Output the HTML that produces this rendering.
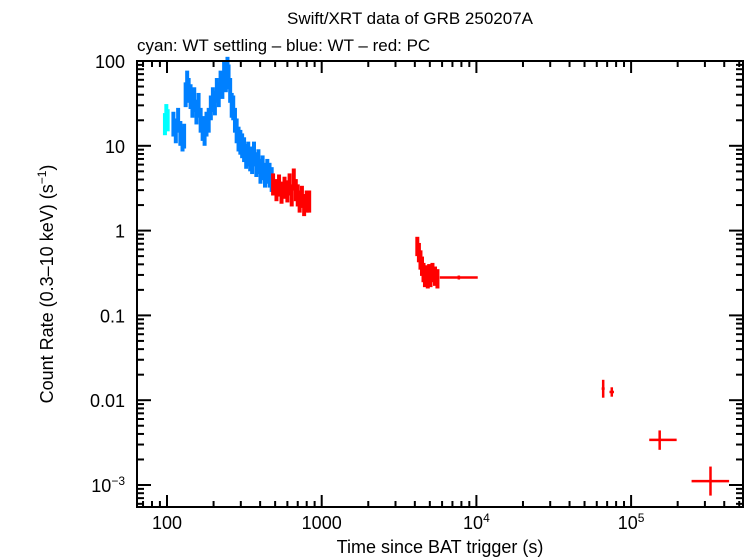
<!DOCTYPE html>
<html><head><meta charset="utf-8"><style>
html,body{margin:0;padding:0;background:#fff;}
svg{display:block;font-family:"Liberation Sans",sans-serif;}
</style></head><body>
<svg id="c" width="746" height="558" viewBox="0 0 746 558">
<text x="410" y="24" text-anchor="middle" font-size="17">Swift/XRT data of GRB 250207A</text>
<text x="137" y="51" font-size="17">cyan: WT settling – blue: WT – red: PC</text>
<text x="440" y="553" text-anchor="middle" font-size="18">Time since BAT trigger (s)</text>
<text transform="translate(53,284) rotate(-90)" text-anchor="middle" font-size="18">Count Rate (0.3–10 keV) (s<tspan dy="-7" font-size="12">−1</tspan><tspan dy="7">)</tspan></text>
<g id="marks"></g>
<g id="axes"></g>
</svg>
<script>
const cyanT=[97,99,101];
const cyanR=[18,23,20];
const wtT=[110,114,118,122,126,129,132,135,138,142,146,150,155,160,165,170,175,180,186,192,198,204,210,216,222,228,234,240,246,250,256,262,268,275,282,290,298,306,315,325,335,345,355,365,378,390,402,415,430,445,460,475];
const wtR=[18,15,20,14,12,13,40,55,45,38,30,35,25,30,20,16,14,18,20,28,35,32,45,40,55,50,70,60,80,65,45,30,28,20,15,12,11,10,9,7.5,8,7,6.5,8,6,6.5,5,5.5,4.5,5,4.5,4];
const pc1T=[485,510,530,550,575,600,620,640,660,680,700,720,745,770,800,830];
const pc1R=[3.5,3.0,3.4,2.8,3.2,2.9,3.5,2.6,4.0,3.0,2.6,2.2,2.5,2.0,2.2,2.2];
const pc2T=[4150,4250,4350,4450,4550,4650,4750,4850,4950,5050,5200,5400,5600];
const pc2R=[0.65,0.55,0.45,0.38,0.32,0.28,0.30,0.27,0.31,0.28,0.32,0.29,0.27];
const pcT=[7700,66000,75000,153000,326000];
const pcTlo=[5800,64500,72500,131000,246000];
const pcThi=[10200,67500,77500,197000,430000];
const pcR=[0.28,0.0137,0.0125,0.0034,0.00111];
const pcRlo=[0.265,0.0107,0.011,0.0026,0.00075];
const pcRhi=[0.295,0.0174,0.0142,0.0044,0.00165];
const xTickVals=[100,1000,10000,100000];
const xTickLabels=["100","1000","10^4","10^5"];
const yTickVals=[100,10,1,0.1,0.01,0.001];
const yTickLabels=["100","10","1","0.1","0.01","10^-3"];

const L=137,R=743,T=61,B=507;
function X(t){return 167+(Math.log10(t)-2)*154.7;}
function Y(r){return 61+(2-Math.log10(r))*84.8;}
const NS="http://www.w3.org/2000/svg";
const marks=document.getElementById('marks'),axes=document.getElementById('axes');
function ln(g,x1,y1,x2,y2,c,w){const e=document.createElementNS(NS,'line');e.setAttribute('x1',x1);e.setAttribute('y1',y1);e.setAttribute('x2',x2);e.setAttribute('y2',y2);e.setAttribute('stroke',c);e.setAttribute('stroke-width',w);g.appendChild(e);return e;}
function grp(name){const g=document.createElementNS(NS,'g');


marks.appendChild(g);return g;}
function dense(Ts,Rs,color,name,fac){
 const g=grp(name);
 for(let i=0;i<Ts.length;i++){
  const prev=i>0?Ts[i-1]:Ts[i]*Ts[i]/Ts[i+1];
  const next=i<Ts.length-1?Ts[i+1]:Ts[i]*Ts[i]/Ts[i-1];
  const lo=Math.sqrt(prev*Ts[i]),hi=Math.sqrt(next*Ts[i]);
  const x=X(Ts[i]),y=Y(Rs[i]);
  ln(g,X(lo),y,X(hi),y,color,3);
  const v=ln(g,x,Y(Rs[i]*fac),x,Y(Rs[i]/fac),color,4);
  
  
 }
}
dense(cyanT,cyanR,'#00ffff','wt-settling-series',1.35);
dense(wtT,wtR,'#0080ff','wt-series',1.4);
dense(pc1T,pc1R,'#ff0000','pc-series-early',1.35);
dense(pc2T,pc2R,'#ff0000','pc-series-mid',1.3);
const gp=grp('pc-series-late');
for(let i=0;i<pcT.length;i++){
 const y=Y(pcR[i]),x=X(pcT[i]);
 ln(gp,X(pcTlo[i]),y,X(pcThi[i]),y,'#ff0000',2.5);
 ln(gp,x,Y(pcRhi[i]),x,Y(pcRlo[i]),'#ff0000',2.5);
}
const fr=document.createElementNS(NS,'rect');
fr.setAttribute('x',L);fr.setAttribute('y',T);fr.setAttribute('width',R-L);fr.setAttribute('height',B-T);
fr.setAttribute('fill','none');fr.setAttribute('stroke','#000');fr.setAttribute('stroke-width',2);


axes.appendChild(fr);
function lbl(x,y,s,anchor,name){
 const t=document.createElementNS(NS,'text');t.setAttribute('x',x);t.setAttribute('y',y);t.setAttribute('font-size','18');t.setAttribute('text-anchor',anchor);
 
 
 const m=s.split('^');t.appendChild(document.createTextNode(m[0]));
 if(m[1]){const sp=document.createElementNS(NS,'tspan');sp.setAttribute('dy','-7');sp.setAttribute('font-size','12');sp.textContent=m[1].replace('-','−');t.appendChild(sp);}
 axes.appendChild(t);
}
for(let d=1;d<=5;d++){for(let k=1;k<10;k++){const v=k*Math.pow(10,d);const x=X(v);if(x<L||x>R)continue;const len=k===1?12:6;ln(axes,x,B,x,B-len,'#000',2);ln(axes,x,T,x,T+len,'#000',2);}}
xTickVals.forEach((v,i)=>lbl(X(v),529,xTickLabels[i],'middle','x-tick-label'));
for(let d=-4;d<=2;d++){for(let k=1;k<10;k++){const v=k*Math.pow(10,d);const y=Y(v);if(y<T-0.5||y>B)continue;const len=k===1?14:7;ln(axes,L,y,L+len,y,'#000',2);ln(axes,R,y,R-len,y,'#000',2);}}
yTickVals.forEach((v,i)=>lbl(125,Y(v)+7,yTickLabels[i],'end','y-tick-label'));
</script>
</body></html>
